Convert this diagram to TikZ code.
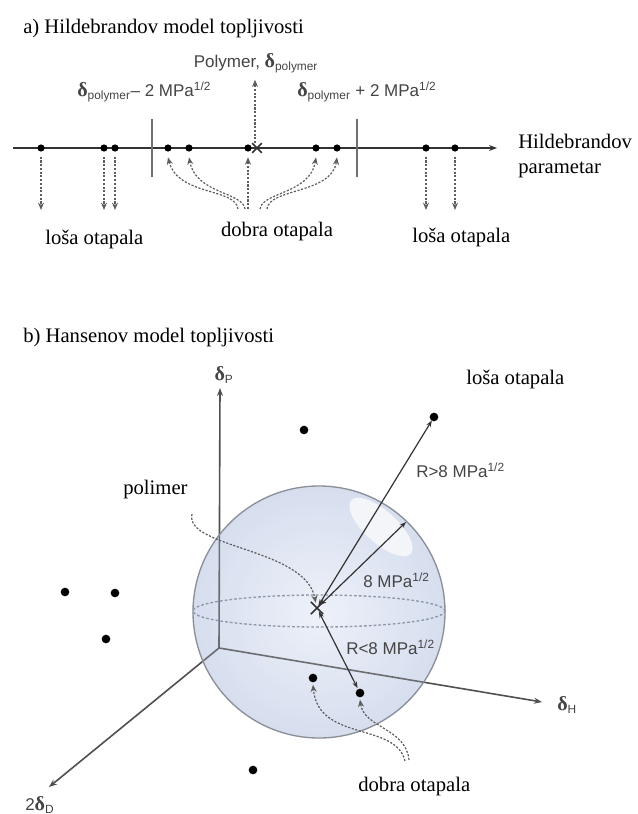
\documentclass[tikz,border=0pt]{standalone}
\usepackage{fontspec}
\setmainfont{Liberation Serif}
\setsansfont{Liberation Sans}
\usetikzlibrary{arrows.meta,shapes.misc}
\definecolor{axgray}{HTML}{333333}
\definecolor{axbgray}{HTML}{505050}
\definecolor{labgray}{HTML}{444444}
\definecolor{dashgray}{HTML}{5E5E5E}
\definecolor{vgray}{HTML}{707070}
\definecolor{sphedge}{HTML}{D5DDEE}
\definecolor{sphin}{HTML}{F2F5FB}
\definecolor{sphtint}{HTML}{DCE3F1}
\definecolor{sphline}{HTML}{8A8F99}
\definecolor{eqgray}{HTML}{8C97AA}
\newcommand{\dlt}{{\rmfamily\bfseries\fontsize{15}{15}\selectfont δ}}
\begin{document}
\begin{tikzpicture}[x=0.75pt,y=-0.75pt,
  serif/.style={font=\fontsize{15.5}{18}\selectfont, inner sep=0pt, text=black},
  sanslab/.style={font=\sffamily\fontsize{12.75}{15}\selectfont, inner sep=0pt, text=labgray},
  dotA/.style={circle, fill=black, inner sep=0pt, minimum size=5.4pt},
  dotB/.style={circle, fill=black, inner sep=0pt, minimum size=6.5pt},
  axisA/.style={line width=1.5pt, draw=axgray, -{Stealth[length=6pt,width=4.5pt]}},
  axisB/.style={line width=1.2pt, draw=axbgray, -{Stealth[length=6pt,width=4.5pt]}},
  vline/.style={line width=1.1pt, draw=vgray},
  darr/.style={line width=0.9pt, draw=dashgray, dash pattern=on 1.6pt off 1.2pt, -{Stealth[length=5.5pt,width=4.5pt]}},
  radarr/.style={line width=0.9pt, draw=axgray, {Stealth[length=5pt,width=3.5pt]}-{Stealth[length=5pt,width=3.5pt]}},
  crossA/.style={cross out, draw=axgray, line width=1.2pt, minimum size=6pt, inner sep=0pt},
  crossB/.style={cross out, draw=axgray, line width=1.2pt, minimum size=8pt, inner sep=0pt},
  eqdash/.style={line width=1pt, draw=eqgray, dash pattern=on 2pt off 1.6pt}
]
\useasboundingbox (0,0) rectangle (638,814);
\fill[white] (0,0) rectangle (638,814);

% ---------------- part a ----------------
\node[serif, anchor=west] (ta) at (23,29) {a) Hildebrandov model topljivosti};
\coordinate (axL) at (13,148);
\coordinate (axR) at (497,148);
\draw[axisA] (axL) -- (axR);
\coordinate (vl1t) at (152,119); \coordinate (vl1b) at (152,177);
\coordinate (vl2t) at (357,119); \coordinate (vl2b) at (357,177);
\draw[vline] (vl1t) -- (vl1b);
\draw[vline] (vl2t) -- (vl2b);
\foreach \n/\x in {1/41,2/104,3/115,4/168,5/189,6/248,7/316,8/337,9/426,10/455}
  \node[dotA] (a\n) at (\x,148) {};
\node[crossA] (px) at (257,148) {};
\coordinate (ybot) at (0,210);
\foreach \n in {1,2,3,9,10}
  \draw[darr] ([yshift=-6.5pt]a\n.center) -- (a\n |- ybot);
\coordinate (ybot2) at (0,209);
\draw[darr] (a6 |- ybot2) -- ([yshift=-7pt]a6.center);
\node[sanslab] (poly) at (256,63) {Polymer, \dlt\textsubscript{polymer}};
\draw[darr] ([xshift=-1.5pt]px.north) -- ([xshift=-1.5pt,yshift=-5pt]px |- poly.south);
\coordinate (c1) at (238,209);
\coordinate (c2) at (245,209);
\coordinate (c3) at (260,209);
\coordinate (c4) at (267,209);
\draw[darr] (c1) .. controls (236,188) and (178,196) .. ([yshift=-7pt]a4.center);
\draw[darr] (c2) .. controls (243,192) and (196,194) .. ([yshift=-7pt]a5.center);
\draw[darr] (c3) .. controls (262,192) and (310,194) .. ([yshift=-7pt]a7.center);
\draw[darr] (c4) .. controls (269,188) and (332,194) .. ([yshift=-7pt]a8.center);
\node[sanslab, anchor=west] (lm) at (77,92) {\dlt\textsubscript{polymer}– 2 MPa\textsuperscript{1/2}};
\node[sanslab, anchor=west] (lp) at (297,92) {\dlt\textsubscript{polymer} + 2 MPa\textsuperscript{1/2}};
\node[serif, anchor=west] (la1) at (45,240) {loša otapala};
\node[serif] (da) at (277,232) {dobra otapala};
\node[serif, anchor=west] (la2) at (412,238) {loša otapala};
\node[serif, anchor=west] (hp1) at (518,141) {Hildebrandov};
\node[serif, anchor=west] (hp2) at (518,170) {parametar};

% ---------------- part b ----------------
\node[serif, anchor=west] (tb) at (23,338) {b) Hansenov model topljivosti};
\coordinate (O) at (219,648);
\coordinate (P) at (220,388);
\coordinate (H) at (542,702);
\coordinate (D) at (49,787);
\coordinate (S) at (319,612);
\shade[inner color=sphin, outer color=sphedge] (S) circle[radius=94.5pt];
\fill[white, opacity=0.85, rotate around={-42:(381,527)}] (381,527) ellipse[x radius=30pt, y radius=12pt];
\draw[axisB] (O) -- (P);
\draw[axisB] (O) -- (H);
\draw[axisB] (O) -- (D);
\fill[sphtint, fill opacity=0.2] (S) circle[radius=94.5pt];
\draw[sphline, line width=1pt] (S) circle[radius=94.5pt];
\draw[eqdash] (319,611) ellipse[x radius=94.5pt, y radius=12pt];

\node[crossB] (bx) at (317,608) {};
\node[dotB] (b1) at (304,430) {};
\node[dotB] (b2) at (434,417) {};
\node[dotB] (b3) at (65,592) {};
\node[dotB] (b4) at (115,593) {};
\node[dotB] (b5) at (106,639) {};
\node[dotB] (b6) at (313,678) {};
\node[dotB] (b7) at (360,693) {};
\node[dotB] (b8) at (253,770) {};
\coordinate (sp) at (406,522);

\draw[radarr, shorten <=2pt, shorten >=3pt] (bx.center) -- (b2.center);
\draw[radarr, shorten <=3pt] (bx.center) -- (sp);
\draw[radarr, shorten <=3pt, shorten >=4pt] (bx.center) -- (b7.center);

\coordinate (pst) at (192,514);
\draw[darr] (pst) .. controls (184,548) and (306,548) .. ([xshift=-1pt,yshift=4pt]bx.center);
\coordinate (gs1) at (409,760);
\coordinate (gs2) at (405,761);
\draw[darr] (gs1) .. controls (406,728) and (364,728) .. ([yshift=-5pt]b7.center);
\draw[darr] (gs2) .. controls (396,722) and (318,742) .. ([yshift=-5pt]b6.center);

\node[sanslab, anchor=west] (r1) at (416,470) {R>8 MPa\textsuperscript{1/2}};
\node[sanslab, anchor=west] (r2) at (363,580) {8 MPa\textsuperscript{1/2}};
\node[sanslab, anchor=west] (r3) at (346,647) {R<8 MPa\textsuperscript{1/2}};
\node[serif, anchor=west] (pl) at (123,490) {polimer};
\node[serif, anchor=west] (lb) at (466,380) {loša otapala};
\node[serif, anchor=west] (db) at (358,787) {dobra otapala};
\node[sanslab] (lP) at (224,375) {\dlt\textsubscript{P}};
\node[sanslab, anchor=west] (lH) at (557,705) {\dlt\textsubscript{H}};
\node[sanslab, anchor=west] (lD) at (25,805) {2\dlt\textsubscript{D}};
\end{tikzpicture}
\end{document}
